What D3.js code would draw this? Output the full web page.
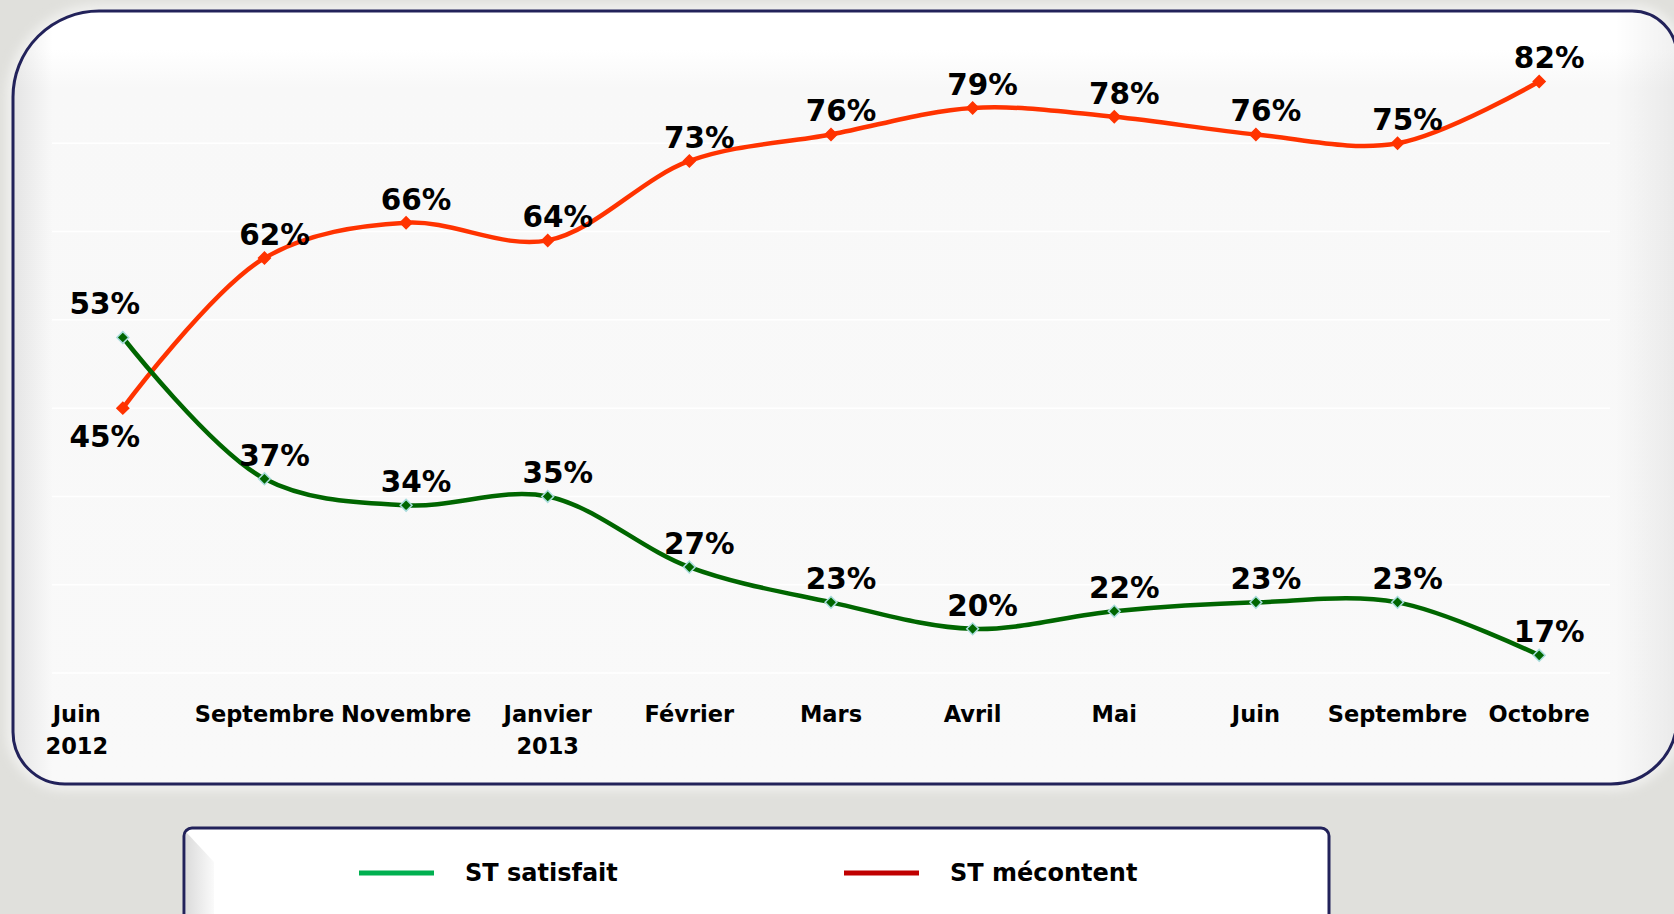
<!DOCTYPE html>
<html lang="fr">
<head>
<meta charset="utf-8">
<style>
  body { margin: 0; background: #e0e0dc; }
  svg { display: block; }
  text { font-family: "DejaVu Sans", Verdana, sans-serif; font-weight: bold; fill: #000; }
</style>
</head>
<body>
<script src="https://d3js.org/d3.v7.min.js"></script>
<script>
var months = [["Juin", "2012"], ["Septembre"], ["Novembre"], ["Janvier", "2013"], ["Février"],
              ["Mars"], ["Avril"], ["Mai"], ["Juin"], ["Septembre"], ["Octobre"]];
var satisfait = [53, 37, 34, 35, 27, 23, 20, 22, 23, 23, 17];
var mecontent = [45, 62, 66, 64, 73, 76, 79, 78, 76, 75, 82];
var gridTicks = [15, 25, 35, 45, 55, 65, 75];
var legendNames = ["ST satisfait", "ST mécontent"];

var width = 1674, height = 914;

var svg = d3.select("body").append("svg")
    .attr("width", width)
    .attr("height", height);

var defs = svg.append("defs");

// frame with uneven corner radii
function frame(x0, y0, x1, y1, rtl, rtr, rbr, rbl) {
    var p = d3.path();
    p.moveTo(x0 + rtl, y0);
    p.lineTo(x1 - rtr, y0);
    p.arcTo(x1, y0, x1, y0 + rtr, rtr);
    p.lineTo(x1, y1 - rbr);
    p.arcTo(x1, y1, x1 - rbr, y1, rbr);
    p.lineTo(x0 + rbl, y1);
    p.arcTo(x0, y1, x0, y1 - rbl, rbl);
    p.lineTo(x0, y0 + rtl);
    p.arcTo(x0, y0, x0 + rtl, y0, rtl);
    p.closePath();
    return p.toString();
}
var framePath = frame(13, 11, 1677, 784, 86, 45, 66, 52);

var vg = defs.append("linearGradient").attr("id", "vfill")
    .attr("x1", 0).attr("y1", 0).attr("x2", 0).attr("y2", 1);
vg.append("stop").attr("offset", 0).attr("stop-color", "#ffffff");
vg.append("stop").attr("offset", 0.05).attr("stop-color", "#ffffff");
vg.append("stop").attr("offset", 0.1).attr("stop-color", "#f8f8f8");
vg.append("stop").attr("offset", 1).attr("stop-color", "#f9f9f9");

var hg = defs.append("linearGradient").attr("id", "lshade")
    .attr("x1", 0).attr("y1", 0).attr("x2", 1).attr("y2", 0);
hg.append("stop").attr("offset", 0).attr("stop-color", "#000").attr("stop-opacity", 0.08);
hg.append("stop").attr("offset", 1).attr("stop-color", "#000").attr("stop-opacity", 0);

var rg = defs.append("linearGradient").attr("id", "rshade")
    .attr("x1", 1).attr("y1", 0).attr("x2", 0).attr("y2", 0);
rg.append("stop").attr("offset", 0).attr("stop-color", "#000").attr("stop-opacity", 0.06);
rg.append("stop").attr("offset", 1).attr("stop-color", "#000").attr("stop-opacity", 0);

defs.append("clipPath").attr("id", "fclip").append("path").attr("d", framePath);

defs.append("filter").attr("id", "glow")
    .attr("x", -0.1).attr("y", -0.1).attr("width", 1.2).attr("height", 1.2)
    .append("feGaussianBlur").attr("stdDeviation", 5);

// soft halo around frame
svg.append("path").attr("d", framePath)
    .attr("fill", "none")
    .attr("stroke", "#f0f0ee")
    .attr("stroke-width", 14)
    .attr("filter", "url(#glow)");

svg.append("path").attr("d", framePath).attr("fill", "url(#vfill)");
var shade = svg.append("g").attr("clip-path", "url(#fclip)");
shade.append("rect").attr("x", 13).attr("y", 11).attr("width", 40).attr("height", 780)
    .attr("fill", "url(#lshade)");
shade.append("rect").attr("x", 1615).attr("y", 11).attr("width", 62).attr("height", 780)
    .attr("fill", "url(#rshade)");
svg.append("path").attr("d", framePath)
    .attr("fill", "none")
    .attr("stroke", "#22225a")
    .attr("stroke-width", 3);

// scales
var x = d3.scaleBand().domain(d3.range(months.length)).range([52, 1610]);
var cx = function (i) { return x(i) + x.bandwidth() / 2; };
var y = d3.scaleLinear().domain([15, 85]).range([673, 55]);

// gridlines
svg.append("g").selectAll("line")
    .data(gridTicks)
    .enter().append("line")
    .attr("x1", 52).attr("x2", 1610)
    .attr("y1", function (d) { return y(d); })
    .attr("y2", function (d) { return y(d); })
    .attr("stroke", "#ffffff")
    .attr("stroke-width", 1.5);

// category labels (first one sits further left, as in the original)
var cat = svg.append("g").selectAll("text")
    .data(months)
    .enter().append("text")
    .attr("text-anchor", "middle")
    .attr("font-size", 22.5)
    .attr("x", function (d, i) { return cx(i) - (i === 0 ? 46 : 0); })
    .attr("y", 722);
cat.selectAll("tspan")
    .data(function (d) { return d; })
    .enter().append("tspan")
    .attr("x", function () { return d3.select(this.parentNode).attr("x"); })
    .attr("dy", function (d, j) { return j === 0 ? 0 : 32; })
    .text(function (d) { return d; });

var line = d3.line()
    .x(function (d, i) { return cx(i); })
    .y(function (d) { return y(d); })
    .curve(d3.curveCatmullRom.alpha(0.5));

var series = [
    { values: mecontent, other: satisfait, color: "#ff3300", width: 4.5, fill: "#ff3300", edge: "#ff3300" },
    { values: satisfait, other: mecontent, color: "#006600", width: 4.5, fill: "#006600", edge: "#a8dcdc" }
];

var diamond = d3.symbol().type(d3.symbolSquare).size(70);

series.forEach(function (s) {
    var g = svg.append("g");
    g.append("path")
        .attr("d", line(s.values))
        .attr("fill", "none")
        .attr("stroke", s.color)
        .attr("stroke-width", s.width)
        .attr("stroke-linejoin", "round");

    g.selectAll("path.m")
        .data(s.values)
        .enter().append("path")
        .attr("class", "m")
        .attr("d", diamond)
        .attr("transform", function (d, i) { return "translate(" + cx(i) + "," + y(d) + ") rotate(45)"; })
        .attr("fill", s.fill)
        .attr("stroke", s.edge)
        .attr("stroke-width", 1.5);

    g.selectAll("text")
        .data(s.values)
        .enter().append("text")
        .attr("text-anchor", "middle")
        .attr("font-size", 29.5)
        .attr("x", function (d, i) { return cx(i) + (i === 0 ? -18 : 10); })
        .attr("y", function (d, i) {
            if (i === 0) return d < s.other[i] ? y(d) + 39 : y(d) - 24;
            return y(d) - 13;
        })
        .text(function (d) { return d + "%"; });
});

// legend
var lg = svg.append("g");
lg.append("rect")
    .attr("x", 184).attr("y", 828).attr("width", 1145).attr("height", 110)
    .attr("rx", 8)
    .attr("fill", "#ffffff")
    .attr("stroke", "#22225a")
    .attr("stroke-width", 3);

var bev = defs.append("linearGradient").attr("id", "bevel")
    .attr("x1", 0).attr("y1", 0).attr("x2", 1).attr("y2", 0);
bev.append("stop").attr("offset", 0).attr("stop-color", "#dcdcdc");
bev.append("stop").attr("offset", 1).attr("stop-color", "#fafafa");
lg.append("polygon")
    .attr("points", "186,832 214,862 214,914 186,914")
    .attr("fill", "url(#bevel)");

var legendColors = ["#00b050", "#c00000"];
var legendX = [359, 844];
var items = lg.selectAll("g.item")
    .data(legendNames)
    .enter().append("g")
    .attr("class", "item")
    .attr("transform", function (d, i) { return "translate(" + legendX[i] + ",873)"; });
items.append("line")
    .attr("x1", 0).attr("x2", 75)
    .attr("stroke", function (d, i) { return legendColors[i]; })
    .attr("stroke-width", 5);
items.append("text")
    .attr("x", 106).attr("y", 8)
    .attr("font-size", 24)
    .text(function (d) { return d; });
</script>
</body>
</html>
